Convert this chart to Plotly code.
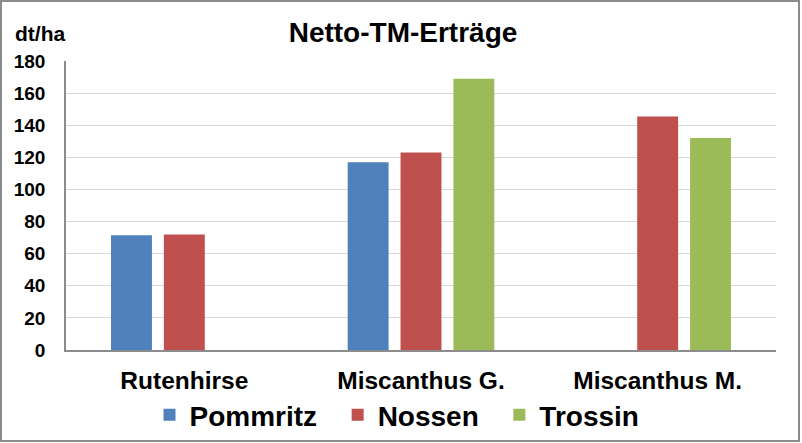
import plotly.graph_objects as go

categories = ["Rutenhirse", "Miscanthus G.", "Miscanthus M."]
pommritz = [71.5, 117, None]
nossen = [72, 123, 145.5]
trossin = [None, 169, 132]
series_names = ["Pommritz", "Nossen", "Trossin"]
colors = ["#4F81BD", "#C0504D", "#9BBB59"]
y_ticks = [0, 20, 40, 60, 80, 100, 120, 140, 160, 180]

FONT = "Liberation Sans, Arial, sans-serif"

fig = go.Figure()
for i, (name, vals, col) in enumerate(zip(series_names, [pommritz, nossen, trossin], colors)):
    label = name + ("\u00a0\u00a0" if i < len(series_names) - 1 else "")
    fig.add_trace(go.Bar(x=categories, y=vals, name=label, marker_color=col,
                         marker_line_width=0))

W, H = 802, 443
L, R, T, B = 66, 26, 61, 93
pw, ph = W - L - R, H - T - B

def px(x):
    return (x - L) / pw

def py(y):
    return (H - B - y) / ph

fig.update_layout(
    width=W, height=H,
    margin=dict(l=L, r=R, t=T, b=B, pad=0, autoexpand=False),
    paper_bgcolor="white", plot_bgcolor="white",
    barmode="group", bargap=0.33, bargroupgap=0.226,
    font=dict(family=FONT, color="black"),
    title=dict(text="<b>Netto-TM-Erträge</b>", font=dict(size=28, family=FONT, color="black"),
               x=403 / W, xanchor="center", xref="container",
               y=1 - 32 / H, yanchor="middle", yref="container"),
    showlegend=True,
    legend=dict(orientation="h", x=px(397), xanchor="center", y=py(415), yanchor="middle",
                font=dict(size=28, family=FONT, color="black", weight="bold"),
                itemsizing="constant", bgcolor="rgba(0,0,0,0)"),
    xaxis=dict(showgrid=False, showline=True, linecolor="#8c8c8c", linewidth=1.5,
               ticks="outside", ticklen=8, tickcolor="rgba(0,0,0,0)", automargin=False,
               tickfont=dict(size=24.5, family=FONT, color="black", weight="bold"),
               range=[-0.5, 2.5]),
    yaxis=dict(range=[0, 180], tickvals=y_ticks, showgrid=True, gridcolor="#d9d9d9", gridwidth=1,
               showline=True, linecolor="#8c8c8c", linewidth=1.5, zeroline=False,
               ticks="", ticklabelstandoff=15, automargin=False,
               tickfont=dict(size=19, family=FONT, color="black", weight="bold")),
    annotations=[dict(text="<b>dt/ha</b>", x=px(13), y=py(34), xref="paper", yref="paper",
                      xanchor="left", yanchor="middle", showarrow=False,
                      font=dict(size=21, family=FONT, color="black"))],
    shapes=[dict(type="rect", xref="paper", yref="paper",
                 x0=px(1), x1=px(799), y0=py(441), y1=py(1),
                 line=dict(color="#8c8c8c", width=2), fillcolor="rgba(0,0,0,0)")],
)

fig.write_html("out.html", config={"displayModeBar": False},
               post_script="document.body.style.margin='0';document.body.style.overflow='hidden';")
